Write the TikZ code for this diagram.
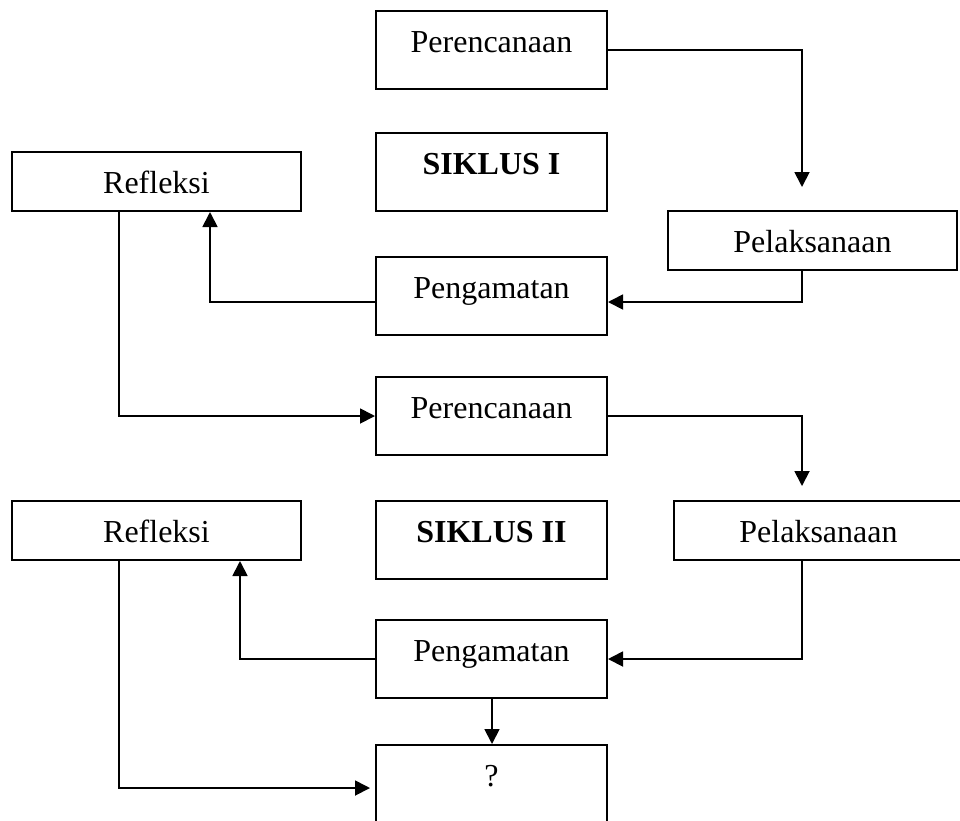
\documentclass[tikz,border=0pt]{standalone}
\usepackage{fontspec}
\setmainfont{Liberation Serif}
\usetikzlibrary{arrows.meta}
\begin{document}
\begin{tikzpicture}[x=1pt,y=-1pt,
  box/.style={draw, line width=2pt, inner sep=0pt, text height=41pt, font=\fontsize{32}{38}\selectfont},
  tall/.style={box, minimum width=231pt, text depth=37pt},
  short/.style={box, minimum width=289pt, text depth=18pt},
  arr/.style={line width=1.8pt, -{Triangle[length=15pt,width=15pt]}}]
\clip (0,0) rectangle (960,820);
\node[tall]  (P1) at (491.5,50)    {Perencanaan};
\node[tall]  (S1) at (491.5,172)   {\textbf{SIKLUS I}};
\node[short] (R1) at (156.5,181.5) {Refleksi};
\node[short] (L1) at (812.5,240.5) {Pelaksanaan};
\node[tall]  (G1) at (491.5,296)   {Pengamatan};
\node[tall]  (P2) at (491.5,416)   {Perencanaan};
\node[short] (R2) at (156.5,530.5) {Refleksi};
\node[tall]  (S2) at (491.5,540)   {\textbf{SIKLUS II}};
\node[short] (L2) at (818.5,530.5) {Pelaksanaan};
\node[tall]  (G2) at (491.5,659)   {Pengamatan};
\node[box, minimum width=231pt, text depth=59pt] (Q) at (491.5,795) {?};
\coordinate (a1) at (802,187);
\coordinate (a2) at (802,486);
\coordinate (a3) at (370,788);
\draw[arr] (P1.east) -| (a1);
\draw[arr] (L1.south -| a1) |- (G1.east |- 0,302);
\draw[arr] (G1.west |- 0,302) -| (R1.south -| 210,0);
\draw[arr] (R1.south -| 119,0) |- (P2.west);
\draw[arr] (P2.east) -| (a2);
\draw[arr] (L2.south -| a2) |- (G2.east);
\draw[arr] (G2.west) -| (R2.south -| 240,0);
\draw[arr] (G2.south -| 492,0) -- (Q.north -| 492,0);
\draw[arr] (R2.south -| 119,0) |- (a3);
\end{tikzpicture}
\end{document}
